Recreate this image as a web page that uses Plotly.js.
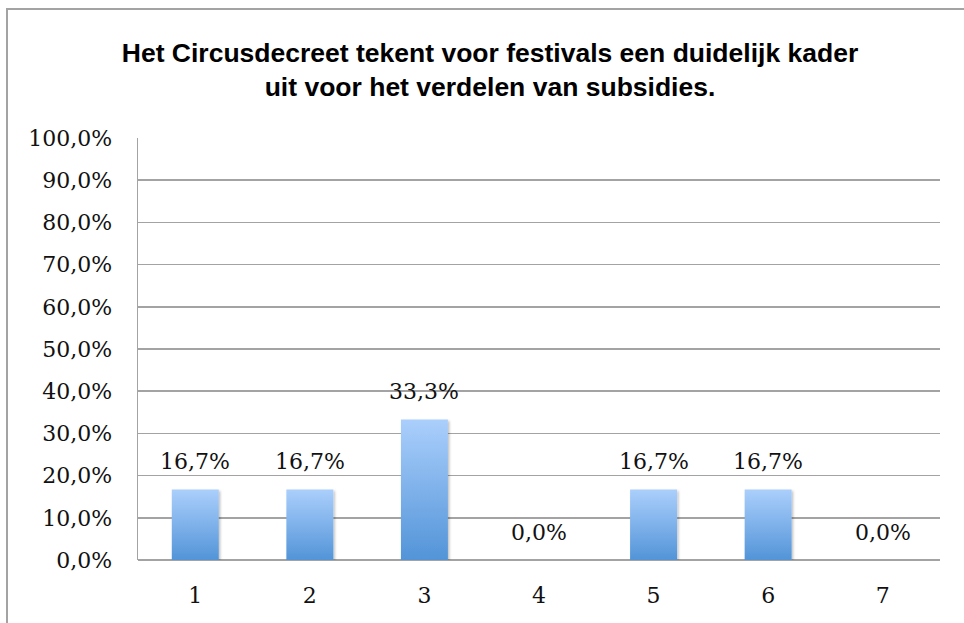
<!DOCTYPE html>
<html>
<head>
<meta charset="utf-8">
<script src="https://cdn.plot.ly/plotly-3.0.1.min.js"></script>
<style>
  html, body { margin: 0; padding: 0; background: #ffffff; }
  #wrap { position: relative; width: 964px; height: 623px; overflow: hidden; }
  #chart { width: 964px; height: 623px; }
  #frame { position: absolute; left: 6px; top: 8px; width: 1200px; height: 900px;
           border-left: 2px solid #a3a3a3; border-top: 2px solid #a3a3a3; pointer-events: none; }
</style>
</head>
<body>
<div id="wrap"><div id="chart"></div><div id="frame"></div></div>
<script>
// ---- data ----
const categories = ["1", "2", "3", "4", "5", "6", "7"];
const values = [16.7, 16.7, 33.3, 0.0, 16.7, 16.7, 0.0];
const valueLabels = ["16,7%", "16,7%", "33,3%", "0,0%", "16,7%", "16,7%", "0,0%"];
const tickValues = [0, 10, 20, 30, 40, 50, 60, 70, 80, 90, 100];
const tickLabels = ["0,0%", "10,0%", "20,0%", "30,0%", "40,0%", "50,0%", "60,0%", "70,0%", "80,0%", "90,0%", "100,0%"];
const chartTitle = "Het Circusdecreet tekent voor festivals een duidelijk kader<br>uit voor het verdelen van subsidies.";

// ---- layout constants ----
const W = 964, H = 623;
const M = { l: 138, r: 24, t: 138, b: 63 };

const serif = "DejaVu Serif, Liberation Serif, serif";
const gridCol = "#a3a3a3";

const trace = {
  type: "bar",
  x: categories,
  y: values,
  marker: { color: "#7fb2ea", line: { width: 0 } },
  hoverinfo: "x+y",
  showlegend: false
};

const annotations = categories.map((c, i) => ({
  x: i, y: values[i], xref: "x", yref: "y",
  text: valueLabels[i], showarrow: false,
  yanchor: "middle", yshift: 28,
  font: { family: serif, size: 22, color: "#111111" }
}));

const layout = {
  width: W, height: H,
  margin: M,
  paper_bgcolor: "#ffffff",
  plot_bgcolor: "#ffffff",
  title: {
    text: chartTitle,
    font: { family: "Liberation Sans, Arial, sans-serif", size: 26.5, color: "#000000", weight: "bold" },
    x: 490 / W, xanchor: "center",
    y: 1 - 62 / H, yanchor: "top", yref: "container"
  },
  bargap: 0.59,
  xaxis: {
    type: "category",
    range: [-0.5, categories.length - 0.5],
    autorange: false,
    showgrid: false,
    showline: false,
    zeroline: false,
    ticks: "",
    ticklabelstandoff: 20,
    tickfont: { family: serif, size: 22, color: "#111111" },
    fixedrange: true
  },
  yaxis: {
    range: [0, 100],
    autorange: false,
    tickmode: "array",
    tickvals: tickValues,
    ticktext: tickLabels,
    showgrid: true,
    gridcolor: gridCol,
    gridwidth: 1.5,
    zeroline: true,
    zerolinecolor: gridCol,
    zerolinewidth: 1.5,
    showline: true,
    linecolor: gridCol,
    linewidth: 1.5,
    ticks: "",
    ticklabelstandoff: 20,
    tickfont: { family: serif, size: 22, color: "#111111" },
    fixedrange: true
  },
  annotations: annotations
};

Plotly.newPlot("chart", [trace], layout, { displayModeBar: false, staticPlot: true }).then(gd => {
  const svg = gd.querySelector(".main-svg");
  const ns = "http://www.w3.org/2000/svg";
  let defs = svg.querySelector("defs");
  if (!defs) { defs = document.createElementNS(ns, "defs"); svg.insertBefore(defs, svg.firstChild); }
  const grad = document.createElementNS(ns, "linearGradient");
  grad.setAttribute("id", "barGrad");
  grad.setAttribute("x1", "0"); grad.setAttribute("y1", "0");
  grad.setAttribute("x2", "0"); grad.setAttribute("y2", "1");
  [["0%", "#abcffc"], ["100%", "#5294d8"]].forEach(([o, c]) => {
    const s = document.createElementNS(ns, "stop");
    s.setAttribute("offset", o); s.setAttribute("stop-color", c);
    grad.appendChild(s);
  });
  defs.appendChild(grad);
  const filt = document.createElementNS(ns, "filter");
  filt.setAttribute("id", "barShadow");
  filt.setAttribute("x", "-20%"); filt.setAttribute("y", "-10%");
  filt.setAttribute("width", "150%"); filt.setAttribute("height", "130%");
  const fe = document.createElementNS(ns, "feDropShadow");
  fe.setAttribute("dx", "1.5"); fe.setAttribute("dy", "1.5");
  fe.setAttribute("stdDeviation", "1.2");
  fe.setAttribute("flood-color", "#000000"); fe.setAttribute("flood-opacity", "0.25");
  filt.appendChild(fe);
  defs.appendChild(filt);
  gd.querySelectorAll(".barlayer .point path").forEach(p => {
    p.style.fill = "url(#barGrad)";
    p.setAttribute("filter", "url(#barShadow)");
  });
});
</script>
</body>
</html>
